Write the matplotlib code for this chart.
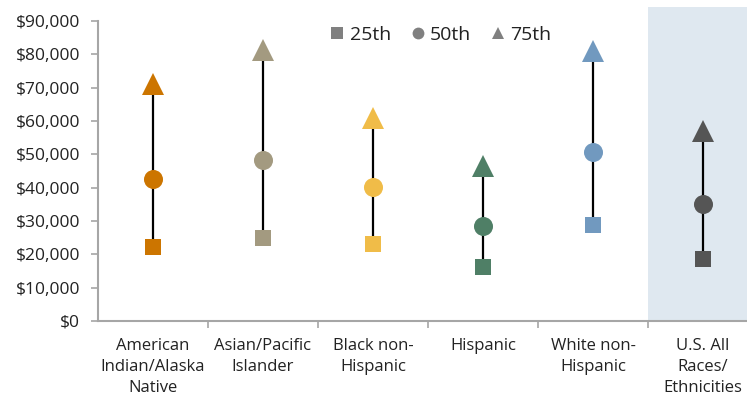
import matplotlib
matplotlib.use("Agg")
import matplotlib.pyplot as plt
from matplotlib.lines import Line2D
from matplotlib.ticker import FuncFormatter

plt.rcParams['font.family'] = ['Open Sans', 'DejaVu Sans']

# Household income percentiles by race/ethnicity
categories = ["American\nIndian/Alaska\nNative", "Asian/Pacific\nIslander",
              "Black non-\nHispanic", "Hispanic", "White non-\nHispanic",
              "U.S. All\nRaces/\nEthnicities"]
p25 = [22300, 25000, 23200, 16300, 28900, 18700]
p50 = [42600, 48300, 40300, 28500, 50700, 35200]
p75 = [71000, 81200, 60900, 46400, 81100, 57000]
colors = ["#CC7500", "#A39A80", "#F0BC48", "#4F7F66", "#7199BF", "#555555"]
legend_labels = ["25th", "50th", "75th"]

fig = plt.figure(figsize=(7.47, 3.95), dpi=100)
ax = fig.add_axes([98 / 747, 74 / 395, 660 / 747, 314 / 395])

x = list(range(len(categories)))
ax.set_xlim(-0.5, len(categories) - 0.5)
ax.set_ylim(0, 94200)

# shaded band behind the national total
ax.axvspan(4.5, 5.5, color="#DFE8F0", zorder=0, lw=0)

for i in x:
    ax.plot([i, i], [p25[i], p75[i]], color="black", lw=1.6, zorder=2,
            solid_capstyle="butt")
    ax.plot(i, p25[i], marker="s", ms=11.5, color=colors[i], mew=0, zorder=3)
    ax.plot(i, p50[i], marker="o", ms=13.7, color=colors[i], mew=0, zorder=3)
    ax.plot(i, p75[i], marker="^", ms=15.5, color=colors[i], mew=0, zorder=3)

ax.set_yticks(range(0, 90001, 10000))
ax.yaxis.set_major_formatter(FuncFormatter(lambda v, _: f"${v:,.0f}"))
ax.set_xticks(x)
ax.set_xticklabels(categories, fontsize=12, color="#222222", linespacing=1.42)
ax.set_xticks([i + 0.5 for i in x[:-1]], minor=True)
ax.tick_params(axis="x", which="major", length=0, pad=12)
ax.tick_params(axis="x", which="minor", length=5, width=1.2, color="#A6A6A6")
ax.tick_params(axis="y", length=5, width=1.2, color="#A6A6A6",
               labelsize=12.5, labelcolor="#222222", pad=8)

for s in ["top", "right"]:
    ax.spines[s].set_visible(False)
for s in ["left", "bottom"]:
    ax.spines[s].set_color("#A6A6A6")
    ax.spines[s].set_linewidth(1.5)
ax.spines["left"].set_bounds(0, 90000)

handles = [
    Line2D([], [], ls="none", marker="s", ms=8, color="#808080", mew=0),
    Line2D([], [], ls="none", marker="o", ms=8.5, color="#808080", mew=0),
    Line2D([], [], ls="none", marker="^", ms=9, color="#808080", mew=0),
]
fig.legend(handles, legend_labels, ncol=3, frameon=False, fontsize=14,
           loc="center", bbox_to_anchor=(441 / 747, 1 - 35 / 395),
           handlelength=0.7, handletextpad=0.3, columnspacing=1.0,
           labelcolor="#222222")

fig.savefig("out.png", dpi=100)
